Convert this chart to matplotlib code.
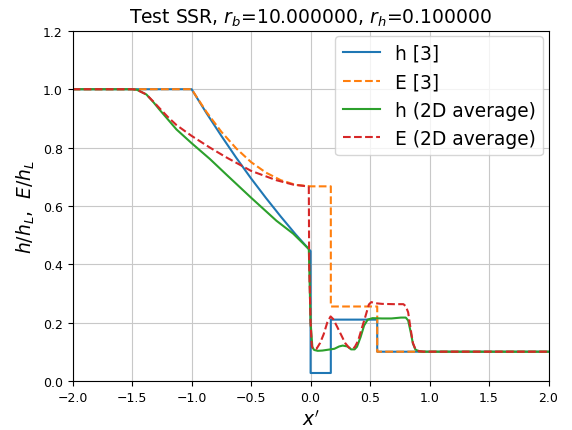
import numpy as np
import matplotlib
matplotlib.use("Agg")
import matplotlib.pyplot as plt

# exact solution [3]
x_exact = [-2.0, -1.0, -0.875, -0.75, -0.625, -0.5, -0.375, -0.25, -0.125, 0.0,
           0.0, 0.17, 0.17, 0.56, 0.56, 2.0]
h_exact = [1.0, 1.0, 0.918, 0.840, 0.765, 0.694, 0.627, 0.563, 0.502, 0.445,
           0.027, 0.027, 0.21, 0.21, 0.1, 0.1]
E_exact = [1.0, 1.0, 0.922, 0.854, 0.797, 0.750, 0.714, 0.688, 0.672, 0.667,
           0.667, 0.667, 0.255, 0.255, 0.1, 0.1]

# 2D averaged numerical solution
x_h2d = [-2.0, -1.5, -1.46, -1.42, -1.38, -1.32, -1.27, -1.127, -1.0, -0.847, -0.707,
         -0.5, -0.287, -0.147, -0.015, 0.0, 0.015, 0.03, 0.06, 0.1, 0.15, 0.2, 0.24,
         0.27, 0.31, 0.34, 0.37, 0.39, 0.42, 0.45, 0.48, 0.52, 0.6, 0.68, 0.76, 0.8,
         0.82, 0.84, 0.86, 0.88, 0.91, 0.95, 2.0]
h_2d = [1.0, 1.0, 0.998, 0.99, 0.982, 0.955, 0.93, 0.862, 0.815, 0.761, 0.707,
        0.628, 0.549, 0.505, 0.452, 0.2, 0.115, 0.106, 0.103, 0.104, 0.107, 0.11, 0.118,
        0.121, 0.118, 0.108, 0.108, 0.117, 0.15, 0.19, 0.21, 0.215, 0.214, 0.214, 0.217, 0.217,
        0.207, 0.17, 0.128, 0.108, 0.101, 0.1, 0.1]

x_E2d = [-2.0, -1.5, -1.46, -1.42, -1.38, -1.32, -1.27, -1.2, -1.127, -1.0, -0.847, -0.707,
         -0.5, -0.287, -0.147, -0.03, -0.015, -0.012, 0.0, 0.01, 0.02, 0.05, 0.08, 0.11,
         0.14, 0.168, 0.19, 0.22, 0.26, 0.29, 0.32, 0.345, 0.37, 0.4, 0.43, 0.46, 0.49,
         0.51, 0.55, 0.6, 0.7, 0.78, 0.8, 0.82, 0.84, 0.86, 0.88, 0.91, 0.95, 2.0]
E_2d = [1.0, 1.0, 0.998, 0.99, 0.982, 0.957, 0.935, 0.905, 0.877, 0.84, 0.80, 0.766,
        0.72, 0.688, 0.673, 0.667, 0.665, 0.4, 0.2, 0.12, 0.11, 0.11, 0.13, 0.16,
        0.2, 0.221, 0.212, 0.188, 0.155, 0.13, 0.115, 0.11, 0.115, 0.138, 0.18, 0.22, 0.262,
        0.27, 0.266, 0.264, 0.263, 0.263, 0.256, 0.235, 0.18, 0.13, 0.11, 0.102, 0.1, 0.1]

fig = plt.figure(figsize=(5.72, 4.31), dpi=100)
ax = fig.add_axes([0.127, 0.114, 0.832, 0.812])

ax.plot(x_exact, h_exact, "-", color="tab:blue", lw=1.5, label="h [3]")
ax.plot(x_exact, E_exact, "--", color="tab:orange", lw=1.5, label="E [3]")
ax.plot(x_h2d, h_2d, "-", color="tab:green", lw=1.5, label="h (2D average)")
ax.plot(x_E2d, E_2d, "--", color="tab:red", lw=1.5, label="E (2D average)")

ax.set_xlim(-2, 2); ax.set_ylim(0, 1.2)
ax.set_xticks(np.arange(-2, 2.01, 0.5))
ax.set_yticks(np.arange(0, 1.21, 0.2))
ax.tick_params(labelsize=9)
ax.grid(True, color="#c8c8c8")
ax.set_title(r"Test SSR, $r_b$=10.000000, $r_h$=0.100000", fontsize=13.5)
ax.set_xlabel(r"$x'$", fontsize=13.5)
ax.set_ylabel(r"$h/h_L$,  $E/h_L$", fontsize=13.5)
ax.legend(loc="upper right", fontsize=13.4, borderaxespad=0.3)

fig.savefig("out.png", dpi=100)
